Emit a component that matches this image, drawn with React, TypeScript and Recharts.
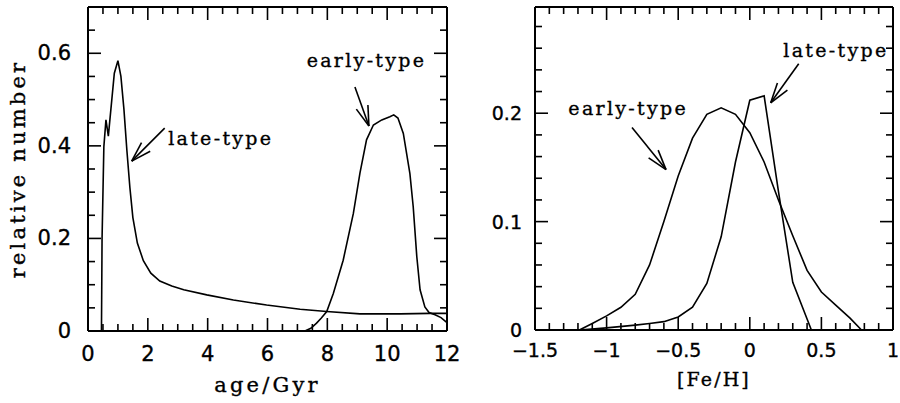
import React from 'react';
import { LineChart, Line, XAxis, YAxis, ReferenceDot } from 'recharts';

// ---------- data ----------
const lateAge = [
  { x: 0.45, y: 0 }, { x: 0.47, y: 0.2 }, { x: 0.53, y: 0.398 }, { x: 0.6, y: 0.456 },
  { x: 0.68, y: 0.421 }, { x: 0.88, y: 0.557 }, { x: 1.0, y: 0.584 }, { x: 1.1, y: 0.55 },
  { x: 1.2, y: 0.48 }, { x: 1.3, y: 0.39 }, { x: 1.4, y: 0.31 }, { x: 1.5, y: 0.245 },
  { x: 1.65, y: 0.19 }, { x: 1.85, y: 0.152 }, { x: 2.1, y: 0.125 }, { x: 2.4, y: 0.108 },
  { x: 2.8, y: 0.097 }, { x: 3.2, y: 0.089 }, { x: 3.97, y: 0.078 }, { x: 4.86, y: 0.067 },
  { x: 5.97, y: 0.056 }, { x: 7.09, y: 0.047 }, { x: 7.98, y: 0.042 }, { x: 9.09, y: 0.037 },
  { x: 10.43, y: 0.037 }, { x: 11.43, y: 0.038 }, { x: 12, y: 0.038 },
];
const earlyAge = [
  { x: 7.25, y: 0 }, { x: 7.45, y: 0.006 }, { x: 7.64, y: 0.017 }, { x: 7.8, y: 0.028 },
  { x: 7.98, y: 0.042 }, { x: 8.2, y: 0.081 }, { x: 8.53, y: 0.153 }, { x: 8.87, y: 0.254 },
  { x: 9.09, y: 0.341 }, { x: 9.31, y: 0.413 }, { x: 9.54, y: 0.445 }, { x: 9.82, y: 0.456 },
  { x: 10.09, y: 0.463 }, { x: 10.22, y: 0.467 }, { x: 10.36, y: 0.46 }, { x: 10.54, y: 0.427 },
  { x: 10.76, y: 0.34 }, { x: 10.87, y: 0.269 }, { x: 10.99, y: 0.161 }, { x: 11.1, y: 0.089 },
  { x: 11.26, y: 0.052 }, { x: 11.4, y: 0.04 }, { x: 11.6, y: 0.035 }, { x: 11.8, y: 0.029 },
  { x: 12, y: 0.018 },
];
const earlyFeH = [
  { x: -1.19, y: 0 }, { x: -1.1, y: 0.006 }, { x: -1.0, y: 0.013 }, { x: -0.9, y: 0.021 },
  { x: -0.8, y: 0.033 }, { x: -0.7, y: 0.06 }, { x: -0.6, y: 0.1 }, { x: -0.5, y: 0.142 },
  { x: -0.4, y: 0.177 }, { x: -0.3, y: 0.199 }, { x: -0.2, y: 0.205 }, { x: -0.1, y: 0.199 },
  { x: 0, y: 0.182 }, { x: 0.1, y: 0.155 }, { x: 0.2, y: 0.12 }, { x: 0.3, y: 0.087 },
  { x: 0.4, y: 0.055 }, { x: 0.5, y: 0.035 }, { x: 0.6, y: 0.023 }, { x: 0.7, y: 0.011 },
  { x: 0.78, y: 0 },
];
const lateFeH = [
  { x: -1.19, y: 0 }, { x: -1.0, y: 0.002 }, { x: -0.8, y: 0.0045 }, { x: -0.7, y: 0.006 },
  { x: -0.6, y: 0.0077 }, { x: -0.5, y: 0.012 }, { x: -0.4, y: 0.021 }, { x: -0.3, y: 0.043 },
  { x: -0.2, y: 0.086 }, { x: -0.1, y: 0.155 }, { x: 0, y: 0.212 }, { x: 0.1, y: 0.216 },
  { x: 0.2, y: 0.128 }, { x: 0.3, y: 0.044 }, { x: 0.43, y: 0 },
];

// ---------- ticks ----------
const ageMajor = [0, 2, 4, 6, 8, 10, 12];
const relMajor = [0, 0.2, 0.4, 0.6];
const fehMajor = [-1.5, -1, -0.5, 0, 0.5, 1];
const rel2Major = [0, 0.1, 0.2];

const range = (a: number, b: number, s: number) => {
  const out: number[] = [];
  const n = Math.round((b - a) / s);
  for (let i = 0; i <= n; i++) out.push(Math.round((a + i * s) * 1000) / 1000);
  return out;
};
const ageTicks = range(0, 12, 0.5);
const relTicks = range(0, 0.7, 0.05);
const fehTicks = range(-1.5, 1, 0.1);
const rel2Ticks = range(0, 0.28, 0.02);

const AGE_DOMAIN: [number, number] = [0, 12];
const REL_DOMAIN: [number, number] = [0, 0.7];
const FEH_DOMAIN: [number, number] = [-1.5, 1];
const REL2_DOMAIN: [number, number] = [0, 0.298];

// ---------- annotations (data coordinates) ----------
const ageArrows = [
  { x: 1.46, y: 0.367, dx: 33, dy: -33 },
  { x: 9.39, y: 0.443, dx: -14, dy: -39 },
];
const ageNotes = [
  { x: 2.68, y: 0.402, text: 'late-type' },
  { x: 7.31, y: 0.571, text: 'early-type' },
];
const fehArrows = [
  { x: 0.146, y: 0.2096, dx: 28, dy: -39 },
  { x: -0.585, y: 0.148, dx: -34, dy: -42 },
];
const fehNotes = [
  { x: 0.234, y: 0.252, text: 'late-type' },
  { x: -1.267, y: 0.198, text: 'early-type' },
];

const SERIF = '"DejaVu Serif", serif';
const SANS = '"DejaVu Sans", sans-serif';
const MINOR = 7;
const MAJOR = 13;
const TW = 1.6;
const isMajor = (v: number, majors: number[]) => majors.some((m) => Math.abs(m - v) < 1e-6);

// labels only (tick marks are drawn as frame tick shapes below)
const bottomLabel = (majors: number[], fmt: (v: number) => string, fs: number) => (p: any) => {
  const v = p.payload.value;
  if (!isMajor(v, majors)) return <g />;
  return (
    <text x={p.x} y={p.y} textAnchor="middle" dominantBaseline="central" fontFamily={SANS} fontSize={fs}
      fill="#000" stroke="#000" strokeWidth={0.35}>
      {fmt(v)}
    </text>
  );
};
const leftLabel = (majors: number[], fmt: (v: number) => string, fs: number) => (p: any) => {
  const v = p.payload.value;
  if (!isMajor(v, majors)) return <g />;
  return (
    <text x={p.x} y={p.y} textAnchor="end" dominantBaseline="central" fontFamily={SANS} fontSize={fs}
      fill="#000" stroke="#000" strokeWidth={0.35}>
      {fmt(v)}
    </text>
  );
};

// tick mark shape anchored on the frame; (ux, uy) points into the plot
const tickMark = (len: number, ux: number, uy: number) => (p: any) => (
  <line x1={p.cx} y1={p.cy} x2={p.cx + ux * len} y2={p.cy + uy * len} stroke="#000" strokeWidth={TW} />
);

function frameTicks(xTicks: number[], xMajor: number[], yTicks: number[], yMajor: number[],
  xd: [number, number], yd: [number, number], prefix: string) {
  const out: React.ReactNode[] = [];
  xTicks.forEach((v) => {
    const len = isMajor(v, xMajor) ? MAJOR : MINOR;
    out.push(<ReferenceDot key={`${prefix}b${v}`} x={v} y={yd[0]} r={0} ifOverflow="visible" shape={tickMark(len, 0, -1)} />);
    out.push(<ReferenceDot key={`${prefix}t${v}`} x={v} y={yd[1]} r={0} ifOverflow="visible" shape={tickMark(len, 0, 1)} />);
  });
  yTicks.forEach((v) => {
    const len = isMajor(v, yMajor) ? MAJOR : MINOR;
    out.push(<ReferenceDot key={`${prefix}l${v}`} x={xd[0]} y={v} r={0} ifOverflow="visible" shape={tickMark(len, 1, 0)} />);
    out.push(<ReferenceDot key={`${prefix}r${v}`} x={xd[1]} y={v} r={0} ifOverflow="visible" shape={tickMark(len, -1, 0)} />);
  });
  return out;
}

const ageBottom = bottomLabel(ageMajor, (v) => String(v), 21);
const relLeft = leftLabel(relMajor, (v) => (v === 0 ? '0' : v.toFixed(1)), 21);
const fehBottom = bottomLabel(fehMajor, (v) => (v < 0 ? '\u2212' + String(Math.abs(v)) : String(v)), 19);
const rel2Left = leftLabel(rel2Major, (v) => (v === 0 ? '0' : v.toFixed(1)), 19);

const arrowShape = (dx: number, dy: number) => (p: any) => {
  const cx = p.cx, cy = p.cy;
  const L = Math.hypot(dx, dy);
  const ux = dx / L, uy = dy / L;
  const a = (17 * Math.PI) / 180;
  const bl = 21;
  const r = (s: number) => ({
    x: cx + bl * (ux * Math.cos(s) - uy * Math.sin(s)),
    y: cy + bl * (ux * Math.sin(s) + uy * Math.cos(s)),
  });
  const b1 = r(a), b2 = r(-a);
  return (
    <g stroke="#000" strokeWidth={1.6} fill="none">
      <line x1={cx} y1={cy} x2={cx + dx} y2={cy + dy} />
      <line x1={cx} y1={cy} x2={b1.x} y2={b1.y} />
      <line x1={cx} y1={cy} x2={b2.x} y2={b2.y} />
    </g>
  );
};

const noteShape = (text: string) => (p: any) => (
  <text x={p.cx} y={p.cy} fontFamily={SERIF} fontSize={19} letterSpacing={2.3} fill="#000" stroke="#000" strokeWidth={0.35}>
    {text}
  </text>
);

const ageXLabel = (p: any) => (
  <text x={p.viewBox.x + p.viewBox.width / 2} y={p.viewBox.y + 61} textAnchor="middle"
    fontFamily={SERIF} fontSize={21} letterSpacing={3.2} fill="#000" stroke="#000" strokeWidth={0.35}>age/Gyr</text>
);
const relYLabel = (p: any) => {
  const cx = 25, cy = p.viewBox.y + p.viewBox.height / 2;
  return (
    <text x={cx} y={cy} transform={`rotate(-90, ${cx}, ${cy})`} textAnchor="middle"
      fontFamily={SERIF} fontSize={21} letterSpacing={3.2} fill="#000" stroke="#000" strokeWidth={0.35}>relative number</text>
  );
};
const fehXLabel = (p: any) => (
  <text x={p.viewBox.x + p.viewBox.width / 2} y={p.viewBox.y + 56} textAnchor="middle"
    fontFamily={SERIF} fontSize={19} letterSpacing={2.1} fill="#000" stroke="#000" strokeWidth={0.35}>[Fe/H]</text>
);

const axisLine = { stroke: '#000', strokeWidth: 2 };
const lineProps = { type: 'linear' as const, dataKey: 'y', stroke: '#000', strokeWidth: 1.6, dot: false, isAnimationActive: false, activeDot: false };
const ghostProps = { type: 'linear' as const, dataKey: 'y', stroke: 'none', dot: false, isAnimationActive: false, activeDot: false, legendType: 'none' as const };

export default function App() {
  return (
    <div style={{ position: 'absolute', left: 0, top: 0, width: 900, height: 403, background: '#fff' }}>
      <div style={{ position: 'absolute', left: 0, top: 0 }}>
        <LineChart width={470} height={403} margin={{ top: 6, right: 22, bottom: 0, left: 0 }}>
          <XAxis xAxisId={0} dataKey="x" type="number" domain={AGE_DOMAIN} ticks={ageTicks} interval={0}
            height={72} stroke="#000" tickSize={0} tickMargin={23} tickLine={false} axisLine={axisLine}
            tick={ageBottom} label={{ content: ageXLabel }} />
          <XAxis xAxisId="top" orientation="top" dataKey="x" type="number" domain={AGE_DOMAIN} ticks={ageMajor}
            interval={0} height={1} stroke="#000" tickLine={false} axisLine={axisLine} tick={false} />
          <YAxis yAxisId={0} type="number" domain={REL_DOMAIN} ticks={relTicks} interval={0}
            width={88} stroke="#000" tickSize={0} tickMargin={17} tickLine={false} axisLine={axisLine}
            tick={relLeft} label={{ content: relYLabel }} />
          <YAxis yAxisId="right" orientation="right" type="number" domain={REL_DOMAIN} ticks={relMajor}
            interval={0} width={1} stroke="#000" tickLine={false} axisLine={axisLine} tick={false} />
          <Line {...ghostProps} xAxisId="top" yAxisId="right" data={lateAge} />
          <Line {...lineProps} data={lateAge} name="late-type" />
          <Line {...lineProps} data={earlyAge} name="early-type" />
          {frameTicks(ageTicks, ageMajor, relTicks, relMajor, AGE_DOMAIN, REL_DOMAIN, 'L')}
          {ageArrows.map((a, i) => (
            <ReferenceDot key={'a' + i} x={a.x} y={a.y} r={0} shape={arrowShape(a.dx, a.dy)} />
          ))}
          {ageNotes.map((n, i) => (
            <ReferenceDot key={'n' + i} x={n.x} y={n.y} r={0} shape={noteShape(n.text)} />
          ))}
        </LineChart>
      </div>
      <div style={{ position: 'absolute', left: 470, top: 0 }}>
        <LineChart width={430} height={403} margin={{ top: 6, right: 6, bottom: 0, left: 0 }}>
          <XAxis xAxisId={0} dataKey="x" type="number" domain={FEH_DOMAIN} ticks={fehTicks} interval={0}
            height={73} stroke="#000" tickSize={0} tickMargin={20} tickLine={false} axisLine={axisLine}
            tick={fehBottom} label={{ content: fehXLabel }} />
          <XAxis xAxisId="top" orientation="top" dataKey="x" type="number" domain={FEH_DOMAIN} ticks={fehMajor}
            interval={0} height={1} stroke="#000" tickLine={false} axisLine={axisLine} tick={false} />
          <YAxis yAxisId={0} type="number" domain={REL2_DOMAIN} ticks={rel2Ticks} interval={0}
            width={65} stroke="#000" tickSize={0} tickMargin={13} tickLine={false} axisLine={axisLine}
            tick={rel2Left} />
          <YAxis yAxisId="right" orientation="right" type="number" domain={REL2_DOMAIN} ticks={rel2Major}
            interval={0} width={1} stroke="#000" tickLine={false} axisLine={axisLine} tick={false} />
          <Line {...ghostProps} xAxisId="top" yAxisId="right" data={lateFeH} />
          <Line {...lineProps} data={earlyFeH} name="early-type" />
          <Line {...lineProps} data={lateFeH} name="late-type" />
          {frameTicks(fehTicks, fehMajor, rel2Ticks, rel2Major, FEH_DOMAIN, REL2_DOMAIN, 'R')}
          {fehArrows.map((a, i) => (
            <ReferenceDot key={'a' + i} x={a.x} y={a.y} r={0} shape={arrowShape(a.dx, a.dy)} />
          ))}
          {fehNotes.map((n, i) => (
            <ReferenceDot key={'n' + i} x={n.x} y={n.y} r={0} shape={noteShape(n.text)} />
          ))}
        </LineChart>
      </div>
    </div>
  );
}
